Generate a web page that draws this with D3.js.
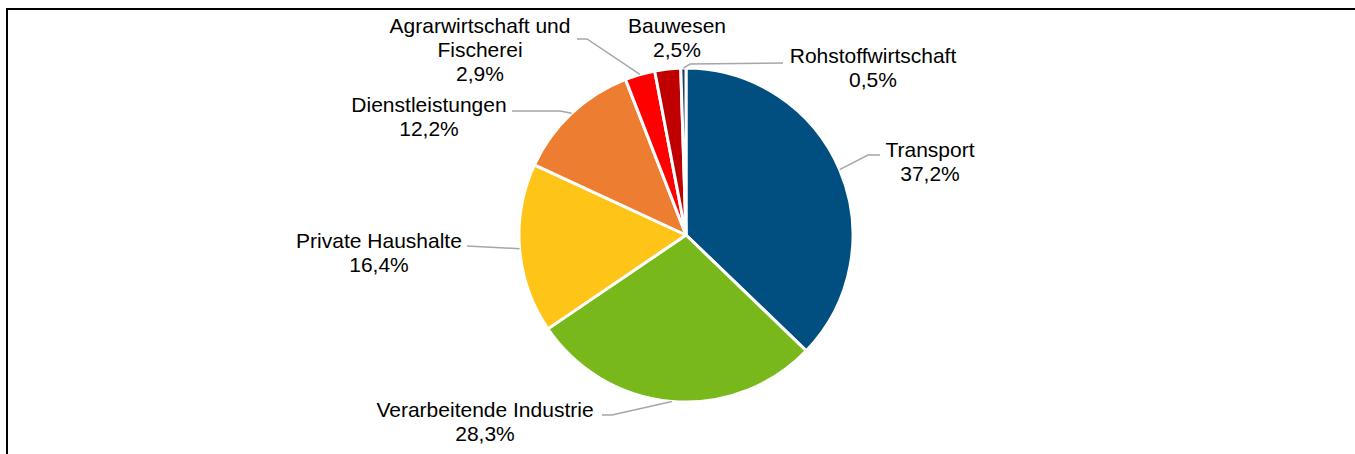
<!DOCTYPE html>
<html>
<head>
<meta charset="utf-8">
<script src="https://cdn.jsdelivr.net/npm/d3@7"></script>
<style>
  body { margin: 0; background: #fff; }
  text { font-family: "Liberation Sans", Arial, sans-serif; font-size: 21px; fill: #000; }
</style>
</head>
<body>
<svg id="chart" width="1355" height="454"></svg>
<script>
// data
var categories = ["Transport", "Verarbeitende Industrie", "Private Haushalte", "Dienstleistungen",
                  "Agrarwirtschaft und Fischerei", "Bauwesen", "Rohstoffwirtschaft"];
var shares = [37.2, 28.3, 16.4, 12.2, 2.9, 2.5, 0.5];
var valueLabels = ["37,2%", "28,3%", "16,4%", "12,2%", "2,9%", "2,5%", "0,5%"];

var colors = ["#004f80", "#78b81a", "#ffc418", "#ed7d31", "#ff0000", "#c00000", "#203864"];

// label layout: text lines, centre x, first baseline, leader polyline after the slice edge
var labelLayout = [
    { lines: ["Transport"], x: 930, y: 157, leader: [[868, 155], [880, 155]] },
    { lines: ["Verarbeitende Industrie"], x: 485, y: 417, leader: [[612, 415], [602, 415]] },
    { lines: ["Private Haushalte"], x: 379, y: 248, leader: [[467, 246]] },
    { lines: ["Dienstleistungen"], x: 429, y: 112, leader: [[560, 111], [512, 111]] },
    { lines: ["Agrarwirtschaft und", "Fischerei"], x: 480, y: 33, leader: [[587, 39], [577, 39]] },
    { lines: ["Bauwesen"], x: 677, y: 33, leader: null },
    { lines: ["Rohstoffwirtschaft"], x: 873, y: 63, leader: [[690, 64], [783, 63]] }
];

var svg = d3.select("#chart");
var cx = 686, cy = 235, radius = 167;

// frame (only left and top visible)
svg.append("path")
    .attr("d", "M7,454V9H1355")
    .attr("fill", "none")
    .attr("stroke", "#000")
    .attr("stroke-width", 2);

var data = categories.map(function(c, i) {
    return { name: c, value: shares[i], label: valueLabels[i], color: colors[i], layout: labelLayout[i] };
});

var pie = d3.pie().sort(null).value(function(d) { return d.value; });
var arcs = pie(data);
var arc = d3.arc().innerRadius(0).outerRadius(radius);

var g = svg.append("g").attr("transform", "translate(" + cx + "," + cy + ")");

g.selectAll("path")
    .data(arcs)
    .enter().append("path")
    .attr("d", arc)
    .attr("fill", function(d) { return d.data.color; })
    .attr("stroke", "#fff")
    .attr("stroke-width", 3)
    .attr("stroke-linejoin", "round");

// leader lines start on the outer edge at each slice's mid angle
var line = d3.line();
svg.append("g")
    .selectAll("path")
    .data(arcs.filter(function(d) { return d.data.layout.leader; }))
    .enter().append("path")
    .attr("d", function(d) {
        var a = (d.startAngle + d.endAngle) / 2;
        var start = [cx + radius * Math.sin(a), cy - radius * Math.cos(a)];
        return line([start].concat(d.data.layout.leader));
    })
    .attr("fill", "none")
    .attr("stroke", "#a6a6a6")
    .attr("stroke-width", 1.5);

var labels = svg.append("g")
    .selectAll("text")
    .data(data)
    .enter().append("text")
    .attr("text-anchor", "middle")
    .attr("x", function(d) { return d.layout.x; })
    .attr("y", function(d) { return d.layout.y; });

labels.each(function(d) {
    var t = d3.select(this);
    d.layout.lines.concat([d.label]).forEach(function(s, i) {
        t.append("tspan")
            .attr("x", d.layout.x)
            .attr("dy", i === 0 ? 0 : 24)
            .text(s);
    });
});
</script>
</body>
</html>
